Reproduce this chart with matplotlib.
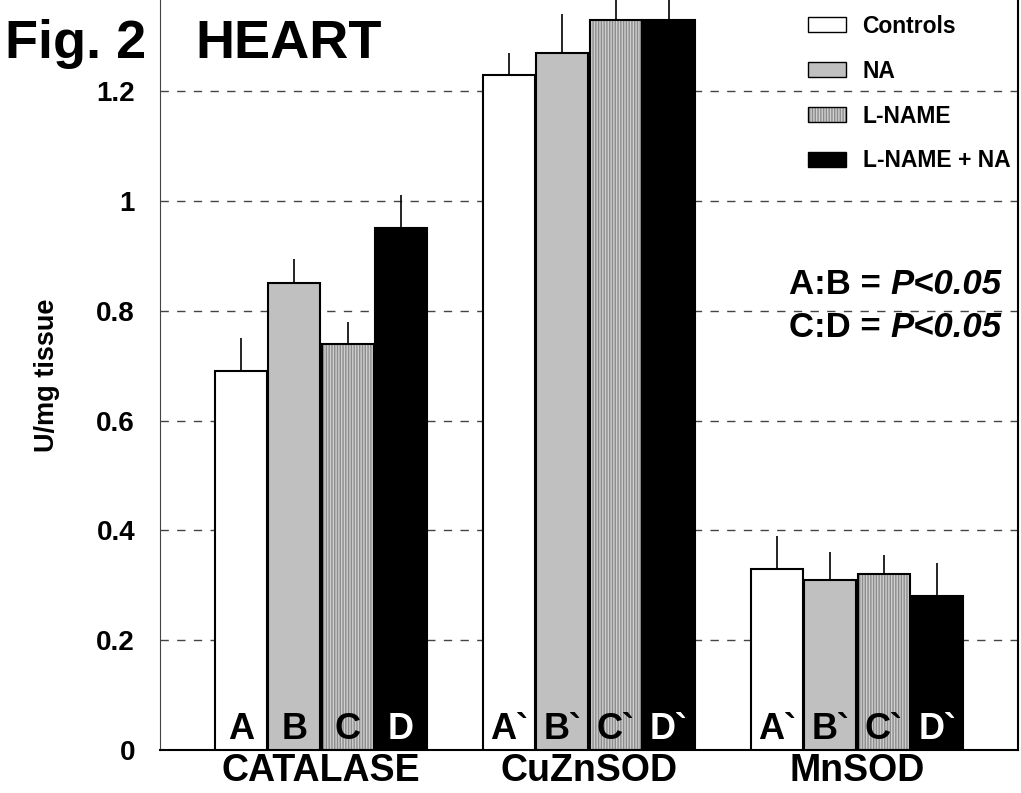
import matplotlib
matplotlib.use("Agg")
import matplotlib.pyplot as plt
from matplotlib.patches import Patch
from matplotlib.legend_handler import HandlerTuple
import numpy as np

plt.rcParams['font.family'] = ['Liberation Sans', 'DejaVu Sans']
plt.rcParams['font.weight'] = 'bold'
plt.rcParams['hatch.linewidth'] = 1.0

# data
enzymes = ['CATALASE', 'CuZnSOD', 'MnSOD']
groups = ['Controls', 'NA', 'L-NAME', 'L-NAME + NA']
means = {
    'Controls':    [0.69, 1.23, 0.33],
    'NA':          [0.85, 1.27, 0.31],
    'L-NAME':      [0.74, 1.33, 0.32],
    'L-NAME + NA': [0.95, 1.33, 0.28],
}
errors = {
    'Controls':    [0.06, 0.04, 0.06],
    'NA':          [0.045, 0.07, 0.05],
    'L-NAME':      [0.04, 0.05, 0.035],
    'L-NAME + NA': [0.06, 0.05, 0.06],
}
bar_letters = [['A', 'B', 'C', 'D'],
               ['A`', 'B`', 'C`', 'D`'],
               ['A`', 'B`', 'C`', 'D`']]
yticks = [0, 0.2, 0.4, 0.6, 0.8, 1.0, 1.2]
ytick_labels = ['0', '0.2', '0.4', '0.6', '0.8', '1', '1.2']

faces = {'Controls': 'white', 'NA': '#c0c0c0', 'L-NAME': '#cfcfcf', 'L-NAME + NA': 'black'}

fig = plt.figure(figsize=(10.21, 7.93), dpi=100)
ax = fig.add_axes([160 / 1021, 43 / 793, 858 / 1021, 750 / 793])

x = np.arange(len(enzymes))
width = 0.194
offsets = np.array([-1.5, -0.5, 0.5, 1.5]) * 0.199

for i, g in enumerate(groups):
    xs = x + offsets[i]
    if g == 'L-NAME':
        ax.bar(xs, means[g], width, color=faces[g], edgecolor='#8c8c8c',
               hatch='||||||', linewidth=0, zorder=2)
        ax.bar(xs, means[g], width, fill=False, edgecolor='black', linewidth=1.5,
               yerr=(np.zeros(3), errors[g]), error_kw=dict(ecolor='black', elinewidth=1.2, capsize=0),
               zorder=3)
    else:
        ax.bar(xs, means[g], width, color=faces[g], edgecolor='black', linewidth=1.5,
               yerr=(np.zeros(3), errors[g]), error_kw=dict(ecolor='black', elinewidth=1.2, capsize=0),
               zorder=3)
    for j in range(len(enzymes)):
        col = 'white' if g == 'L-NAME + NA' else 'black'
        ax.text(xs[j], 0.006, bar_letters[j][i], ha='center', va='bottom',
                fontsize=26, fontweight='bold', color=col, zorder=4)

ax.set_xlim(-0.6, 2.6)
ax.set_ylim(0, 1.366)
ax.set_yticks(yticks)
ax.set_yticklabels(ytick_labels, fontsize=20, fontweight='bold')
ax.set_xticks(x)
ax.set_xticklabels(enzymes, fontsize=27, fontweight='bold')
ax.tick_params(axis='y', length=0, pad=18)
ax.tick_params(axis='x', length=0, pad=2)
ax.yaxis.grid(True, linestyle=(0, (6, 6)), color='#444444', linewidth=1)
ax.set_axisbelow(True)
ax.spines['top'].set_visible(False)
ax.spines['left'].set_color('#444444')
ax.spines['right'].set_linewidth(1.5)
ax.spines['bottom'].set_linewidth(1.5)
ax.set_ylabel('U/mg tissue', fontsize=19.5, fontweight='bold', labelpad=26)

# legend
handles = [
    Patch(facecolor='white', edgecolor='black', linewidth=1),
    Patch(facecolor='#c0c0c0', edgecolor='black', linewidth=1),
    (Patch(facecolor='#cfcfcf', edgecolor='#8c8c8c', hatch='||||||', linewidth=0),
     Patch(fill=False, edgecolor='black', linewidth=1)),
    Patch(facecolor='black', edgecolor='black'),
]
ax.legend(handles, groups, loc='upper left', bbox_to_anchor=(0.755, 0.98),
          frameon=False, borderpad=0, borderaxespad=0,
          labelspacing=0.95, handlelength=1.67, handleheight=0.63, handletextpad=0.72,
          handler_map={tuple: HandlerTuple(ndivide=1)},
          prop={'weight': 'bold', 'size': 16.5})

# significance notes
for ytxt, pair in [(0.62, 'A:B = '), (0.563, 'C:D = ')]:
    p = ax.text(0.981, ytxt, 'P<0.05', transform=ax.transAxes, ha='right', va='center',
                fontsize=25, fontweight='bold', style='italic')
    ax.annotate(pair, xy=(0, 0.5), xycoords=p, ha='right', va='center',
                fontsize=25, fontweight='bold')

fig.text(5 / 1021, 1 - 58 / 793, 'Fig. 2', fontsize=39, fontweight='bold', va='baseline')
fig.text(195 / 1021, 1 - 58 / 793, 'HEART', fontsize=39, fontweight='bold', va='baseline')

fig.savefig('out.png', dpi=100)
